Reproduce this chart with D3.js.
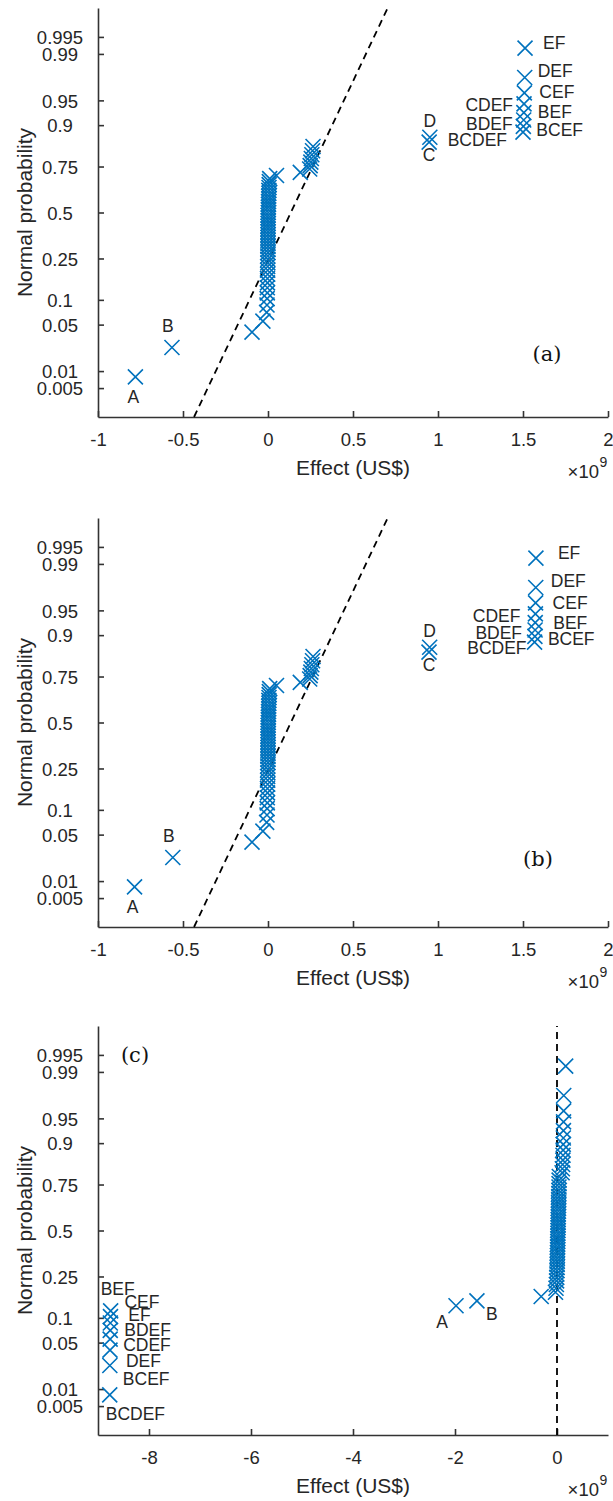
<!DOCTYPE html>
<html lang="en">
<head>
    <meta charset="UTF-8">
    <script src="https://d3js.org/d3.v7.min.js"></script>
    <title>Normal probability plots of effects</title>
    <style>
        body { margin: 0; background: #fff; }
        text { font-family: 'Liberation Sans', Arial, sans-serif; fill: #262626; }
        .tick text { font-size: 18.5px; }
        .tick line, .domain { stroke: #333; stroke-width: 1.6; }
        text.axlabel { font-size: 21px; }
        text.name { font-size: 17.5px; }
        text.tag { font-family: 'DejaVu Serif', serif; font-size: 21px; fill: #111; }
    </style>
</head>
<body>
<script>
    // sorted effects (x 1e9 US$), 63 per panel
    const effectsA = [
        -0.78, -0.565, -0.094, -0.03,
        -0.008, -0.006, -0.005, -0.004, -0.004, -0.003, -0.003, -0.002, -0.002, -0.002,
        -0.001, -0.001, -0.001, 0, 0, 0, 0, 0, 0, 0,
        0, 0, 0, 0.001, 0.001, 0.001, 0.001, 0.002, 0.002, 0.002,
        0.003, 0.003, 0.004, 0.004, 0.005, 0.005, 0.006, 0.007, 0.008, 0.01,
        0.05, 0.19,
        0.245, 0.248, 0.252, 0.255, 0.258, 0.262, 0.265,
        0.948, 0.952,
        1.500, 1.502, 1.504, 1.505, 1.506, 1.508, 1.510, 1.512
    ];
    const effectsB = [
        -0.785, -0.56, -0.094, -0.03,
        -0.008, -0.006, -0.005, -0.004, -0.004, -0.003, -0.003, -0.002, -0.002, -0.002,
        -0.001, -0.001, -0.001, 0, 0, 0, 0, 0, 0, 0,
        0, 0, 0, 0.001, 0.001, 0.001, 0.001, 0.002, 0.002, 0.002,
        0.003, 0.003, 0.004, 0.004, 0.005, 0.005, 0.006, 0.007, 0.008, 0.01,
        0.05, 0.19,
        0.245, 0.248, 0.252, 0.255, 0.258, 0.262, 0.265,
        0.947, 0.951,
        1.568, 1.570, 1.571, 1.572, 1.573, 1.574, 1.575, 1.576
    ];
    const effectsC = [
        -8.77, -8.768, -8.765, -8.762, -8.76, -8.758, -8.755, -8.752,
        -1.98, -1.57, -0.31,
        -0.03, -0.02, -0.012, -0.008, -0.005, -0.002, 0, 0.003, 0.004, 0.006,
        0.007, 0.008, 0.01, 0.011, 0.012, 0.013, 0.015, 0.016, 0.017, 0.018,
        0.019, 0.02, 0.022, 0.023, 0.024, 0.025, 0.026, 0.028, 0.029, 0.03,
        0.031, 0.033, 0.034, 0.036, 0.037, 0.039, 0.04, 0.042, 0.045,
        0.1, 0.105, 0.11, 0.115, 0.118, 0.12, 0.122, 0.124, 0.126, 0.128, 0.13, 0.132,
        0.17
    ];

    // reference line: effect at z = -3 and z = +3
    const refA = [-0.435, 0.704];
    const refB = [-0.435, 0.704];
    const refC = [0, 0];

    const probTicks = [0.005, 0.01, 0.05, 0.1, 0.25, 0.5, 0.75, 0.9, 0.95, 0.99, 0.995];
    const probTickLabels = ["0.005", "0.01", "0.05", "0.1", "0.25", "0.5", "0.75", "0.9", "0.95", "0.99", "0.995"];
    const xTicksAB = [-1, -0.5, 0, 0.5, 1, 1.5, 2];
    const xTicksC = [-8, -6, -4, -2, 0];

    // [rank, name]
    const namesAB = [[1, "A"], [2, "B"], [54, "C"], [55, "D"], [56, "BCDEF"], [57, "BCEF"],
        [58, "BDEF"], [59, "BEF"], [60, "CDEF"], [61, "CEF"], [62, "DEF"], [63, "EF"]];
    const namesC = [[1, "BCDEF"], [2, "BCEF"], [3, "DEF"], [4, "CDEF"], [5, "BDEF"],
        [6, "EF"], [7, "CEF"], [8, "BEF"], [9, "A"], [10, "B"]];

    // label placement (px offsets from marker, anchor)
    const placeA = {A: [-2, 26, "middle"], B: [-4, -16, "middle"], C: [0, 19, "middle"], D: [0, -10, "middle"],
        BCDEF: [-16, 14, "end"], BCEF: [13, 10, "start"], BDEF: [-11, 10, "end"], BEF: [14, 5, "start"],
        CDEF: [-11, 7, "end"], CEF: [15, 5, "start"], DEF: [13, 0, "start"], EF: [18, 1, "start"]};
    const placeB = {A: [-2, 26, "middle"], B: [-4, -16, "middle"], C: [0, 19, "middle"], D: [0, -10, "middle"],
        BCDEF: [-8, 12, "end"], BCEF: [13, 9, "start"], BDEF: [-13, 9, "end"], BEF: [18, 6, "start"],
        CDEF: [-15, 8, "end"], CEF: [17, 6, "start"], DEF: [15, 0, "start"], EF: [22, 1, "start"]};
    const placeC = {BCDEF: [-4, 25, "start"], BCEF: [13, 19, "start"], DEF: [16, 17, "start"],
        CDEF: [13, 12, "start"], BDEF: [14, 6, "start"], EF: [18, -2, "start"], CEF: [14, -9, "start"],
        BEF: [-10, -16, "start"], A: [-14, 22, "middle"], B: [15, 19, "middle"]};

    const panels = [
        {off: 0, effects: effectsA, xDomain: [-1, 2], xTicks: xTicksAB, ref: refA, names: namesAB, place: placeA, tag: "(a)", tagX: 547, tagY: 361},
        {off: 510, effects: effectsB, xDomain: [-1, 2], xTicks: xTicksAB, ref: refB, names: namesAB, place: placeB, tag: "(b)", tagX: 538, tagY: 356},
        {off: 1018, effects: effectsC, xDomain: [-9, 1], xTicks: xTicksC, ref: refC, names: namesC, place: placeC, tag: "(c)", tagX: 135, tagY: 44}
    ];

    // inverse normal CDF (Acklam)
    function probit(p) {
        const a = [-3.969683028665376e+01, 2.209460984245205e+02, -2.759285104469687e+02, 1.383577518672690e+02, -3.066479806614716e+01, 2.506628277459239e+00];
        const b = [-5.447609879822406e+01, 1.615858368580409e+02, -1.556989798598866e+02, 6.680131188771972e+01, -1.328068155288572e+01];
        const c = [-7.784894002430293e-03, -3.223964580411365e-01, -2.400758277161838e+00, -2.549671324505250e+00, 4.374664141464968e+00, 2.938163982698783e+00];
        const d = [7.784695709041462e-03, 3.224671290700398e-01, 2.445134137142996e+00, 3.754408661907416e+00];
        const pl = 0.02425;
        if (p < pl || p > 1 - pl) {
            const q = Math.sqrt(-2 * Math.log(p < pl ? p : 1 - p));
            const v = (((((c[0]*q+c[1])*q+c[2])*q+c[3])*q+c[4])*q+c[5]) / ((((d[0]*q+d[1])*q+d[2])*q+d[3])*q+1);
            return p < pl ? v : -v;
        }
        const q = p - 0.5, r = q * q;
        return (((((a[0]*r+a[1])*r+a[2])*r+a[3])*r+a[4])*r+a[5])*q / (((((b[0]*r+b[1])*r+b[2])*r+b[3])*r+b[4])*r+1);
    }

    const width = 613, height = 1501;
    const plotLeft = 98, plotRight = 608, plotTop = 8, plotBottom = 417;
    const blue = "#0072BD";

    const svg = d3.select("body").append("svg").attr("width", width).attr("height", height);
    svg.append("rect").attr("width", width).attr("height", height).attr("fill", "#fff");

    panels.forEach(p => {
        const g = svg.append("g").attr("transform", `translate(0,${p.off})`);
        const x = d3.scaleLinear().domain(p.xDomain).range([plotLeft, plotRight]);
        const y = d3.scaleLinear().domain([-3, 3]).range([plotBottom, plotTop]);
        const n = p.effects.length;
        const pos = (d, i) => [x(d), y(probit((i + 0.5) / n))];

        // axes
        const yAxis = d3.axisLeft(y)
                .tickValues(probTicks.map(probit))
                .tickSizeInner(-6).tickSizeOuter(0)
                .tickFormat((d, i) => probTickLabels[i]);
        const gy = g.append("g").attr("transform", `translate(${plotLeft},0)`).call(yAxis);
        gy.selectAll(".tick text").attr("x", -38).attr("dy", "0.36em").attr("text-anchor", "middle");

        const xAxis = d3.axisBottom(x)
                .tickValues(p.xTicks)
                .tickSizeInner(-6).tickSizeOuter(0)
                .tickFormat(d => String(d));
        const gx = g.append("g").attr("transform", `translate(0,${plotBottom})`).call(xAxis);
        gx.selectAll(".tick text").attr("y", 22).attr("dy", "0.36em");
        g.selectAll(".domain").attr("fill", "none");

        // reference line
        g.append("line")
                .attr("x1", x(p.ref[0])).attr("y1", y(-3))
                .attr("x2", x(p.ref[1])).attr("y2", y(3))
                .attr("stroke", "#000").attr("stroke-width", 1.8)
                .attr("stroke-dasharray", "7,5");

        // markers
        g.selectAll("path.pt").data(p.effects).join("path")
                .attr("class", "pt")
                .attr("d", "M-7.5,-7.5L7.5,7.5M-7.5,7.5L7.5,-7.5")
                .attr("transform", (d, i) => `translate(${pos(d, i)})`)
                .attr("stroke", blue).attr("stroke-width", 1.6).attr("fill", "none");

        // effect names
        g.selectAll("text.name").data(p.names).join("text")
                .attr("class", "name")
                .each(function ([rank, name]) {
                    const [px, py] = pos(p.effects[rank - 1], rank - 1);
                    const [dx, dy, anchor] = p.place[name];
                    d3.select(this).attr("x", px + dx).attr("y", py + dy)
                            .attr("text-anchor", anchor).text(name);
                });

        // labels
        g.append("text").attr("class", "axlabel")
                .attr("transform", `translate(32,${(plotTop + plotBottom) / 2}) rotate(-90)`)
                .attr("text-anchor", "middle").text("Normal probability");
        g.append("text").attr("class", "axlabel")
                .attr("x", (plotLeft + plotRight) / 2).attr("y", 475)
                .attr("text-anchor", "middle").text("Effect (US$)");
        g.append("text").attr("x", 599).attr("y", 478)
                .attr("text-anchor", "end").style("font-size", "18.5px").text("\u00d710");
        g.append("text").attr("x", 599.5).attr("y", 467)
                .style("font-size", "14px").text("9");
        g.append("text").attr("class", "tag")
                .attr("x", p.tagX).attr("y", p.tagY)
                .attr("text-anchor", "middle").text(p.tag);
    });
</script>
</body>
</html>
